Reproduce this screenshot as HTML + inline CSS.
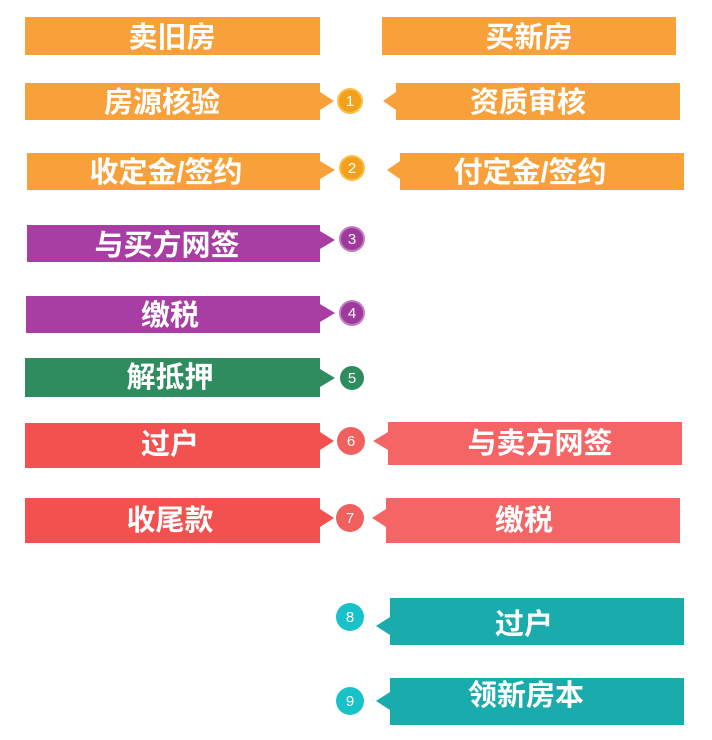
<!DOCTYPE html>
<html><head><meta charset="utf-8"><style>
html,body{margin:0;padding:0;background:#fff;}
svg{display:block}
text{font-family:"Liberation Sans","Noto Sans CJK SC",sans-serif;font-weight:bold;fill:#fff;text-anchor:middle;}
.t{font-size:29px}
.n{font-size:15px;font-weight:normal}
</style></head><body>
<svg width="712" height="740" viewBox="0 0 712 740">
<rect x="25" y="17" width="295" height="38" fill="#f8a03a"/>
<text class="t" x="172" y="47">卖旧房</text>
<rect x="382" y="17" width="294" height="38" fill="#f8a03a"/>
<text class="t" x="529" y="47">买新房</text>

<rect x="25" y="83" width="295" height="37" fill="#f8a03a"/>
<polygon points="320,92 334,101 320,110" fill="#f8a03a"/>
<text class="t" x="162" y="112">房源核验</text>
<circle cx="350" cy="101" r="12" fill="#f3a01c" stroke="#f9c04a" stroke-width="2"/>
<text class="n" x="350" y="106">1</text>
<rect x="396" y="83" width="284" height="37" fill="#f8a03a"/>
<polygon points="396,92 383,101 396,110" fill="#f8a03a"/>
<text class="t" x="528" y="112">资质审核</text>

<rect x="27" y="153" width="293" height="37" fill="#f8a03a"/>
<polygon points="320,161 335,170 320,179" fill="#f8a03a"/>
<text class="t" x="166" y="182">收定金/签约</text>
<circle cx="352" cy="168" r="12" fill="#f3a01c" stroke="#f9c04a" stroke-width="2"/>
<text class="n" x="352" y="173">2</text>
<rect x="400" y="153" width="284" height="37" fill="#f8a03a"/>
<polygon points="400,161 387,170 400,179" fill="#f8a03a"/>
<text class="t" x="530" y="182">付定金/签约</text>

<rect x="27" y="225" width="293" height="37" fill="#a83ea3"/>
<polygon points="320,231 335,240 320,249" fill="#a83ea3"/>
<text class="t" x="167" y="255">与买方网签</text>
<circle cx="352" cy="239" r="12" fill="#a0399c" stroke="#c07ec0" stroke-width="2"/>
<text class="n" x="352" y="244">3</text>

<rect x="26" y="296" width="294" height="37" fill="#a83ea3"/>
<polygon points="320,304 335,313 320,322" fill="#a83ea3"/>
<text class="t" x="170" y="325">缴税</text>
<circle cx="352" cy="313" r="12" fill="#a0399c" stroke="#c07ec0" stroke-width="2"/>
<text class="n" x="352" y="318">4</text>

<rect x="25" y="358" width="295" height="39" fill="#2e8c5e"/>
<polygon points="320,369 335,378 320,387" fill="#2e8c5e"/>
<text class="t" x="170" y="387">解抵押</text>
<circle cx="352" cy="378" r="12" fill="#2e8c5e"/>
<text class="n" x="352" y="383">5</text>

<rect x="25" y="423" width="295" height="45" fill="#f35150"/>
<polygon points="320,432 334,441 320,450" fill="#f35150"/>
<text class="t" x="170" y="454">过户</text>
<circle cx="351" cy="441" r="14" fill="#f0605e"/>
<text class="n" x="351" y="446">6</text>
<rect x="388" y="422" width="294" height="43" fill="#f56566"/>
<polygon points="388,432 373,441 388,450" fill="#f56566"/>
<text class="t" x="540" y="453">与卖方网签</text>

<rect x="25" y="498" width="295" height="45" fill="#f35150"/>
<polygon points="320,509 334,518 320,527" fill="#f35150"/>
<text class="t" x="170" y="530">收尾款</text>
<circle cx="350" cy="518" r="14" fill="#f0605e"/>
<text class="n" x="350" y="523">7</text>
<rect x="386" y="498" width="294" height="45" fill="#f56566"/>
<polygon points="386,509 372,518 386,527" fill="#f56566"/>
<text class="t" x="524" y="530">缴税</text>

<circle cx="350" cy="617" r="14" fill="#19c2c8"/>
<text class="n" x="350" y="622">8</text>
<rect x="390" y="598" width="294" height="47" fill="#1aacad"/>
<polygon points="390,617 376,626 390,635" fill="#1aacad"/>
<text class="t" x="524" y="634">过户</text>

<circle cx="350" cy="701" r="14" fill="#19c2c8"/>
<text class="n" x="350" y="706">9</text>
<rect x="390" y="678" width="294" height="47" fill="#1aacad"/>
<polygon points="390,692 376,701 390,710" fill="#1aacad"/>
<text class="t" x="526" y="705">领新房本</text>
</svg>
</body></html>
